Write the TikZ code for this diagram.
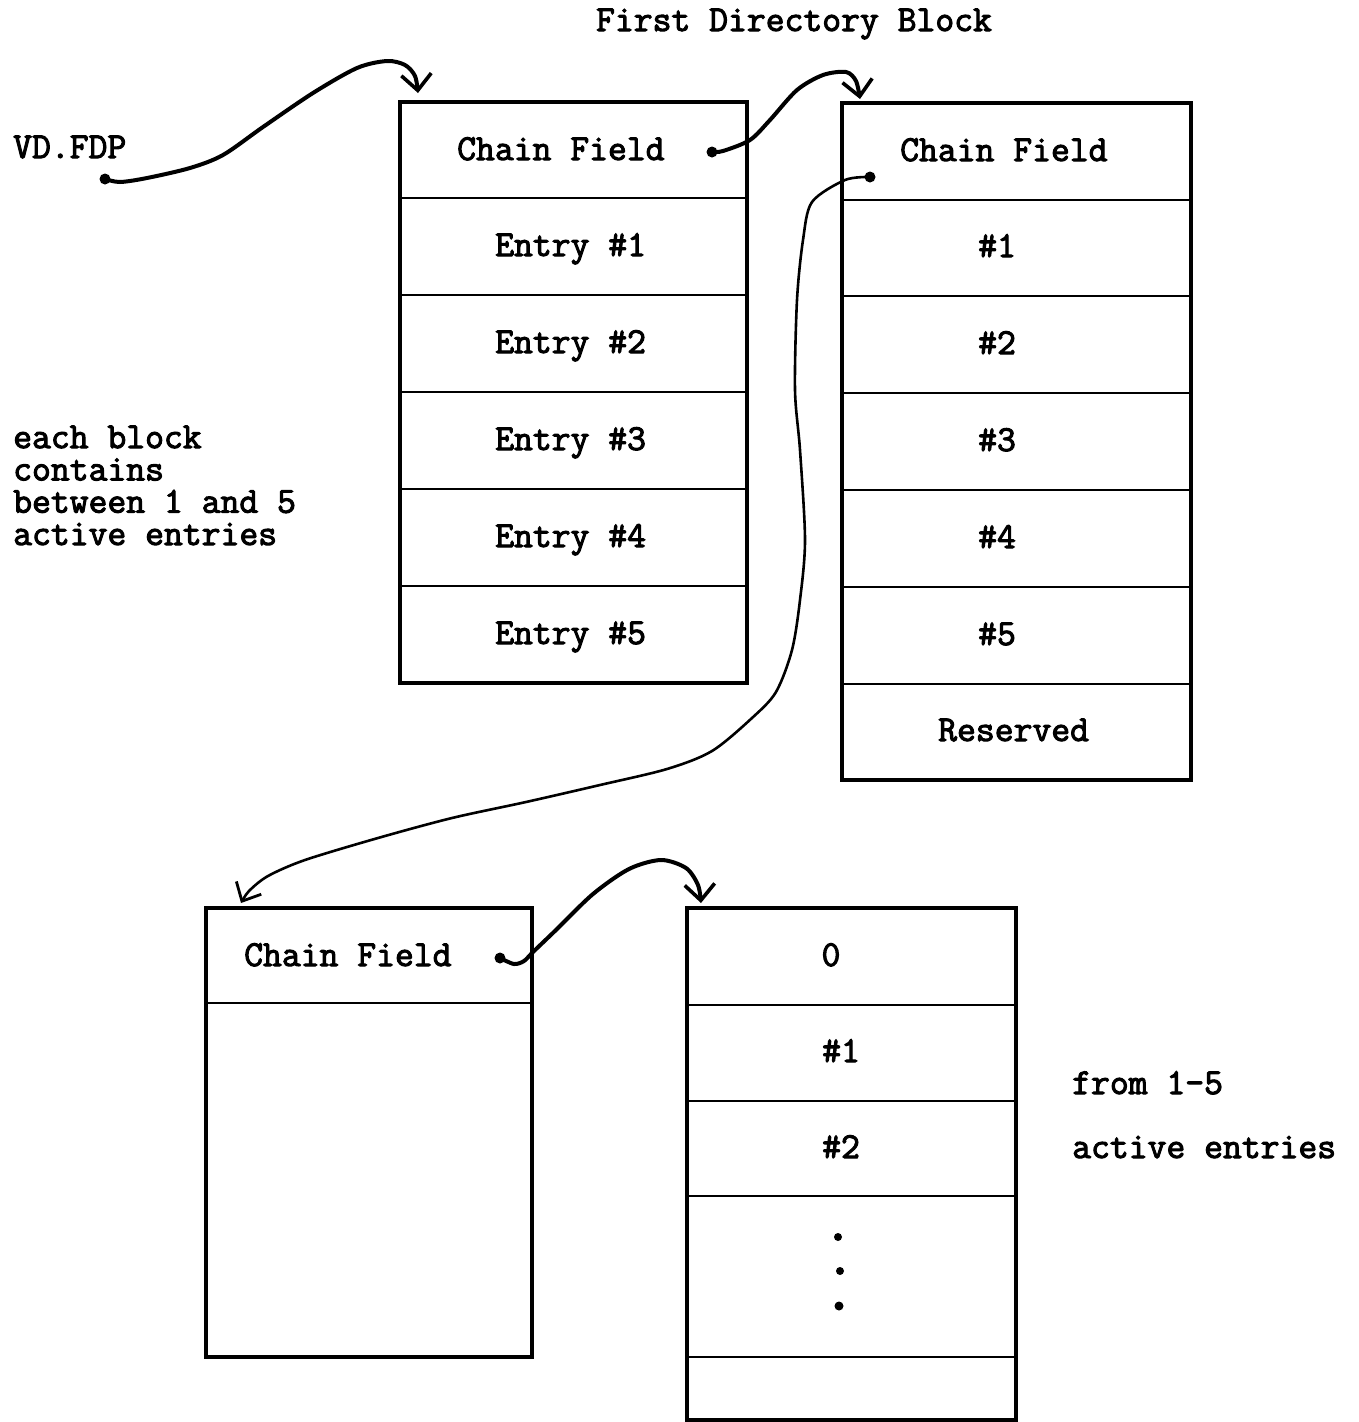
\documentclass[tikz,border=0pt]{standalone}
\usepackage{fontspec}
\newfontfamily\tw{Latin Modern Mono}[FakeBold=2.8]
\usetikzlibrary{arrows.meta}
\begin{document}
\begin{tikzpicture}[x=1pt,y=-1pt,
  lbl/.style={anchor=base west,inner sep=0pt,font=\tw\fontsize{36.6}{38}\selectfont},
  clbl/.style={anchor=base,inner sep=0pt,font=\tw\fontsize{36.6}{38}\selectfont},
  boxline/.style={line width=3.2pt,line cap=rect},
  rowline/.style={line width=2.8pt},
  link/.style={line width=4pt,line cap=round,-{Straight Barb[length=16pt,width=30pt,line width=3.6pt]}},
  thinlink/.style={line width=2.6pt,line cap=round,-{Straight Barb[length=15pt,width=28pt,line width=2.8pt]}},
  pdot/.style={fill=black}]
\useasboundingbox (0,0) rectangle (1359,1422);

% ---------- blocks ----------
% block A
\draw[boxline] (400,102) rectangle (747,683);
\foreach \yy in {198,295,392,489,586} \draw[rowline] (400,\yy) -- (747,\yy);
% block B
\draw[boxline] (842,103) rectangle (1191,780);
\foreach \yy in {200,296,393,490,587,684} \draw[rowline] (842,\yy) -- (1191,\yy);
% block C
\draw[boxline] (206,908) rectangle (532,1357);
\draw[rowline] (206,1003) -- (532,1003);
% block D
\draw[boxline] (687,908) rectangle (1016,1420);
\foreach \yy in {1005,1101,1196,1357} \draw[rowline] (687,\yy) -- (1016,\yy);

% ---------- texts ----------
\node[clbl] (title) at (794,31) {First Directory Block};
\node[lbl] (vdfdp) at (13,158) {VD.FDP};
\node[lbl,align=left,font=\tw\fontsize{36.6}{32.3}\selectfont] (note) at (13,545)
  {each block\\contains\\between 1 and 5\\active entries};

\node[lbl] (Achain) at (457,160) {Chain Field};
\node[lbl] (Ae1) at (495,256) {Entry \#1};
\node[lbl] (Ae2) at (495,353) {Entry \#2};
\node[lbl] (Ae3) at (495,450) {Entry \#3};
\node[lbl] (Ae4) at (495,547) {Entry \#4};
\node[lbl] (Ae5) at (495,644) {Entry \#5};

\node[lbl] (Bchain) at (900,161) {Chain Field};
\node[lbl] (Be1) at (978,257) {\#1};
\node[lbl] (Be2) at (978,354) {\#2};
\node[lbl] (Be3) at (978,451) {\#3};
\node[lbl] (Be4) at (978,548) {\#4};
\node[lbl] (Be5) at (978,645) {\#5};
\node[lbl] (Bres) at (938,741) {Reserved};

\node[lbl] (Cchain) at (244,966) {Chain Field};

\node[clbl] (D0) at (831,966) {0};
\node[lbl] (De1) at (822,1062) {\#1};
\node[lbl] (De2) at (822,1158) {\#2};

\node[lbl] (f1) at (1072,1094) {from 1-5};
\node[lbl] (f2) at (1072,1158) {active entries};

% ellipsis dots
\fill (838,1237) circle (4);
\fill (840,1271) circle (4);
\fill (839,1306) circle (4.5);

% ---------- pointer ends ----------
\coordinate (pV) at (105,179);
\coordinate (pA) at (712,152);
\coordinate (pB) at (870,177);
\coordinate (pC) at (500,958);
\coordinate (tA) at (418,93);
\coordinate (tB) at (860,99);
\coordinate (tC) at (241,903);
\coordinate (tD) at (701,903);

\foreach \p in {pV,pA,pB,pC} \fill[pdot] (\p) circle (5.5);

% ---------- connectors ----------
\draw[link] plot[smooth] coordinates {(pV) (120,182) (147,178) (190,168) (223,155) (263,127) (313,93) (357,68) (387,61) (405,65) (415,76) (tA)};
\draw[link] plot[smooth] coordinates {(pA) (723,151) (750,140) (770,120) (797,90) (823,75) (846,72) (856,81) (tB)};
\draw[thinlink] plot[smooth] coordinates {(pB) (845,180) (812,202) (803,240) (797,300) (795,390) (800,450) (805,540) (800,600) (792,650) (776,692) (752,718) (712,751) (667,769) (600,785) (526,802) (452,818) (378,838) (305,860) (268,876) (249,891) (tC)};
\draw[link] plot[smooth] coordinates {(pC) (514,964) (524,961) (533,952) (557,929) (593,894) (629,869) (661,860) (686,868) (698,885) (tD)};
\end{tikzpicture}
\end{document}
